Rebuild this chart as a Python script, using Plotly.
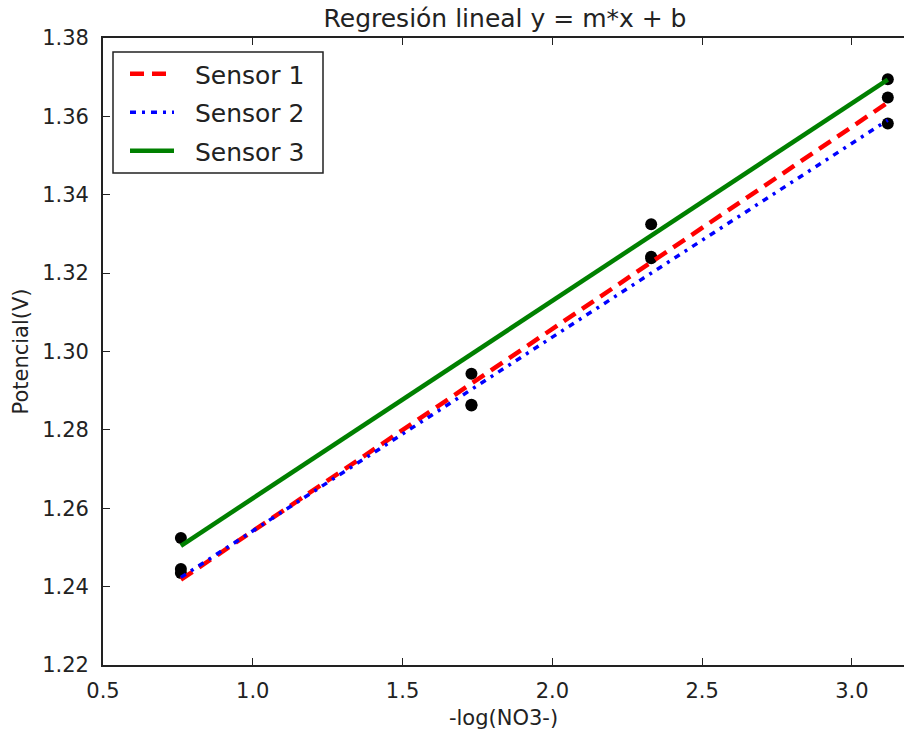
import numpy as np
import plotly.graph_objects as go

# -log(NO3-) values
x_vals = [0.76, 1.73, 2.33, 3.12]
# Potencial (V) for each sensor
sensor1 = [1.2445, 1.2864, 1.3242, 1.3648]
sensor2 = [1.2435, 1.2862, 1.3238, 1.3582]
sensor3 = [1.2524, 1.2943, 1.3325, 1.3695]

series_names = ["Sensor 1", "Sensor 2", "Sensor 3"]
series_values = [sensor1, sensor2, sensor3]
series_colors = ["#ff0000", "#0000ff", "#008000"]
series_dash = ["14px,8px", "6px,6px,3px,6px", "solid"]
series_width = [4.5, 3.5, 4.5]

FONT = "DejaVu Sans"
W, H = 904, 732
L, R, T, B = 103, 0, 38, 67
PW, PH = W - L - R, H - T - B


def px_x(p):
    return (p - L) / PW


def px_y(p):
    return 1 - (p - T) / PH


fig = go.Figure()

# data points (black circles, drawn beneath the lines)
for vals in series_values:
    fig.add_trace(go.Scatter(
        x=x_vals, y=vals, mode="markers",
        marker=dict(color="black", size=12, line=dict(width=0)),
        showlegend=False, hoverinfo="skip"))

# regression lines y = m*x + b
xa = np.array(x_vals)
for i, (name, vals, col, dash, w) in enumerate(zip(series_names, series_values, series_colors, series_dash, series_width)):
    m, b = np.polyfit(xa, np.array(vals), 1)
    xs = [xa.min(), xa.max()]
    fig.add_trace(go.Scatter(
        x=xs, y=[m * v + b for v in xs], mode="lines",
        name="\u00a0\u00a0" + name, legendgroup=f"g{i}",
        line=dict(color=col, width=w, dash=dash)))

axis_common = dict(
    showgrid=False, zeroline=False,
    showline=True, linecolor="#222222", linewidth=1.8,
    ticks="inside", ticklen=7, tickwidth=1, tickcolor="#222222",
    tickfont=dict(family=FONT, size=21, color="#222222"),
)

# legend frame
fig.add_shape(type="rect", xref="paper", yref="paper",
              x0=px_x(113), x1=px_x(323), y0=px_y(173), y1=px_y(52),
              line=dict(color="#222222", width=1.5), fillcolor="white",
              layer="above")

fig.update_layout(
    width=W, height=H,
    margin=dict(l=L, r=R, t=T, b=B),
    paper_bgcolor="white", plot_bgcolor="white",
    font=dict(family=FONT, color="#222222"),
    title=dict(text="Regresión lineal y = m*x + b",
               font=dict(family=FONT, size=25, color="#222222"),
               x=(103 + 907) / 2 / W, xanchor="center",
               y=1 - 18 / H, yanchor="middle"),
    xaxis=dict(range=[0.5, 3.174], tick0=0.5, dtick=0.5, tickformat=".1f",
               mirror="ticks", ticklabelstandoff=6,
               title=dict(text="-log(NO3-)", standoff=8,
                          font=dict(family=FONT, size=21, color="#222222")),
               **axis_common),
    yaxis=dict(range=[1.22, 1.38], tick0=1.22, dtick=0.02, tickformat=".2f",
               mirror=False, ticklabelstandoff=8,
               title=dict(text="Potencial(V)", standoff=8,
                          font=dict(family=FONT, size=21, color="#222222")),
               **axis_common),
    legend=dict(x=px_x(125), y=px_y(51),
                xanchor="left", yanchor="top",
                bgcolor="rgba(0,0,0,0)", borderwidth=0,
                font=dict(family=FONT, size=25, color="#222222"),
                itemwidth=44, traceorder="grouped", tracegroupgap=3),
)

fig.write_html("out.html", config={"displayModeBar": False},
               post_script="document.body.style.margin='0';")
